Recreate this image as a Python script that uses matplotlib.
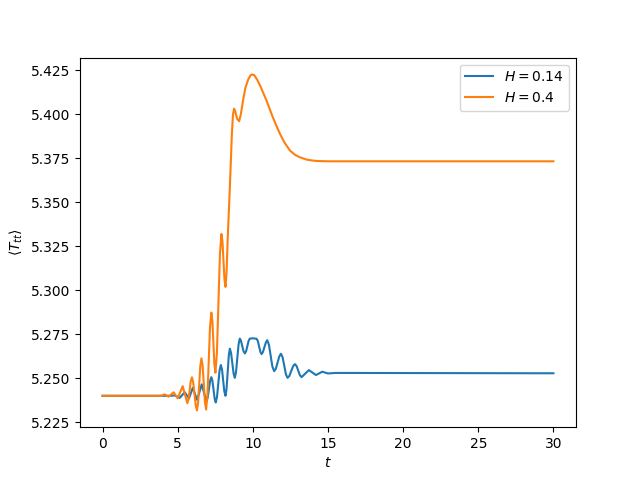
import matplotlib
matplotlib.use("Agg")
import matplotlib.pyplot as plt
from matplotlib.ticker import FormatStrFormatter

# H = 0.14 series
t_h014 = [0.0, 4.5, 4.8, 5.13, 5.47, 5.75, 6.0, 6.29, 6.6, 6.91, 6.99, 7.16, 7.24,
          7.31, 7.46, 7.53, 7.615, 7.785, 7.87, 7.95, 8.10, 8.18, 8.25, 8.40, 8.47,
          8.55, 8.72, 8.8, 8.88, 9.05, 9.13, 9.21, 9.38, 9.47, 9.55, 9.72, 9.8,
          10.0, 10.25, 10.33, 10.50, 10.58, 10.67, 10.87, 10.96, 11.07, 11.30,
          11.42, 11.53, 11.76, 11.87, 11.98, 12.2, 12.31, 12.43, 12.68, 12.8,
          12.91, 13.13, 13.24, 13.73, 14.2, 14.62, 15.0, 15.5, 30.0]
v_h014 = [5.2400, 5.2400, 5.2402, 5.2388, 5.2420, 5.2385, 5.2445, 5.2377, 5.2465,
          5.2368, 5.2388, 5.2486, 5.2506, 5.2485, 5.2383, 5.2362, 5.2393, 5.2544,
          5.2575, 5.2549, 5.2426, 5.2400, 5.2439, 5.2629, 5.2668, 5.2644, 5.2526,
          5.2502, 5.2535, 5.2692, 5.2725, 5.2713, 5.2653, 5.2641, 5.2653, 5.2713,
          5.2725, 5.2727, 5.2724, 5.2712, 5.2650, 5.2637, 5.2649, 5.2704, 5.2716,
          5.2690, 5.2566, 5.2540, 5.2554, 5.2624, 5.2639, 5.2619, 5.2522, 5.2502,
          5.2513, 5.2569, 5.2580, 5.2569, 5.2517, 5.2506, 5.2546, 5.2518, 5.2537,
          5.2527, 5.2530, 5.2528]

# H = 0.4 series
t_h04 = [0.0, 3.9, 4.13, 4.4, 4.73, 5.0, 5.33, 5.64, 5.72, 5.87, 5.95, 6.03, 6.20,
         6.28, 6.355, 6.505, 6.58, 6.66, 6.81, 6.89, 6.98, 7.15, 7.24, 7.31, 7.44,
         7.51, 7.61, 7.81, 7.91, 7.98, 8.11, 8.18, 8.25, 8.33, 8.47, 8.6, 8.68,
         8.75, 8.82, 8.95, 9.09, 9.2, 9.35, 9.5, 9.7, 9.85, 9.95, 10.1, 10.3, 10.5,
         10.7, 10.9, 11.1, 11.3, 11.55, 11.8, 12.1, 12.47, 12.8, 13.13, 13.6, 14.2,
         15.0, 30.0]
v_h04 = [5.2400, 5.2400, 5.2408, 5.2395, 5.2420, 5.2386, 5.2455, 5.2358, 5.2380,
         5.2484, 5.2505, 5.2477, 5.2345, 5.2317, 5.2360, 5.2570, 5.2613, 5.2570,
         5.2365, 5.2322, 5.2403, 5.2792, 5.2873, 5.2823, 5.2581, 5.2531, 5.2647,
         5.3205, 5.3320, 5.3276, 5.3063, 5.3019, 5.3100, 5.3300, 5.3585, 5.3880,
         5.4000, 5.4032, 5.4020, 5.3975, 5.3961, 5.4000, 5.4080, 5.4150, 5.4200,
         5.4222, 5.4227, 5.4222, 5.4195, 5.4160, 5.4120, 5.4080, 5.4035, 5.3990,
         5.3938, 5.3890, 5.3840, 5.3794, 5.3770, 5.3756, 5.3742, 5.3735, 5.3733,
         5.3733]

fig, ax = plt.subplots(figsize=(6.4, 4.8), dpi=100)
ax.plot(t_h014, v_h014, label=r"$H = 0.14$")
ax.plot(t_h04, v_h04, label=r"$H = 0.4$")
ax.yaxis.set_major_formatter(FormatStrFormatter('%.3f'))
ax.set_xlabel(r"$t$")
ax.set_ylabel(r"$\langle T_{tt}\rangle$")
ax.legend(loc="upper right")
fig.savefig("out.png", dpi=100)
